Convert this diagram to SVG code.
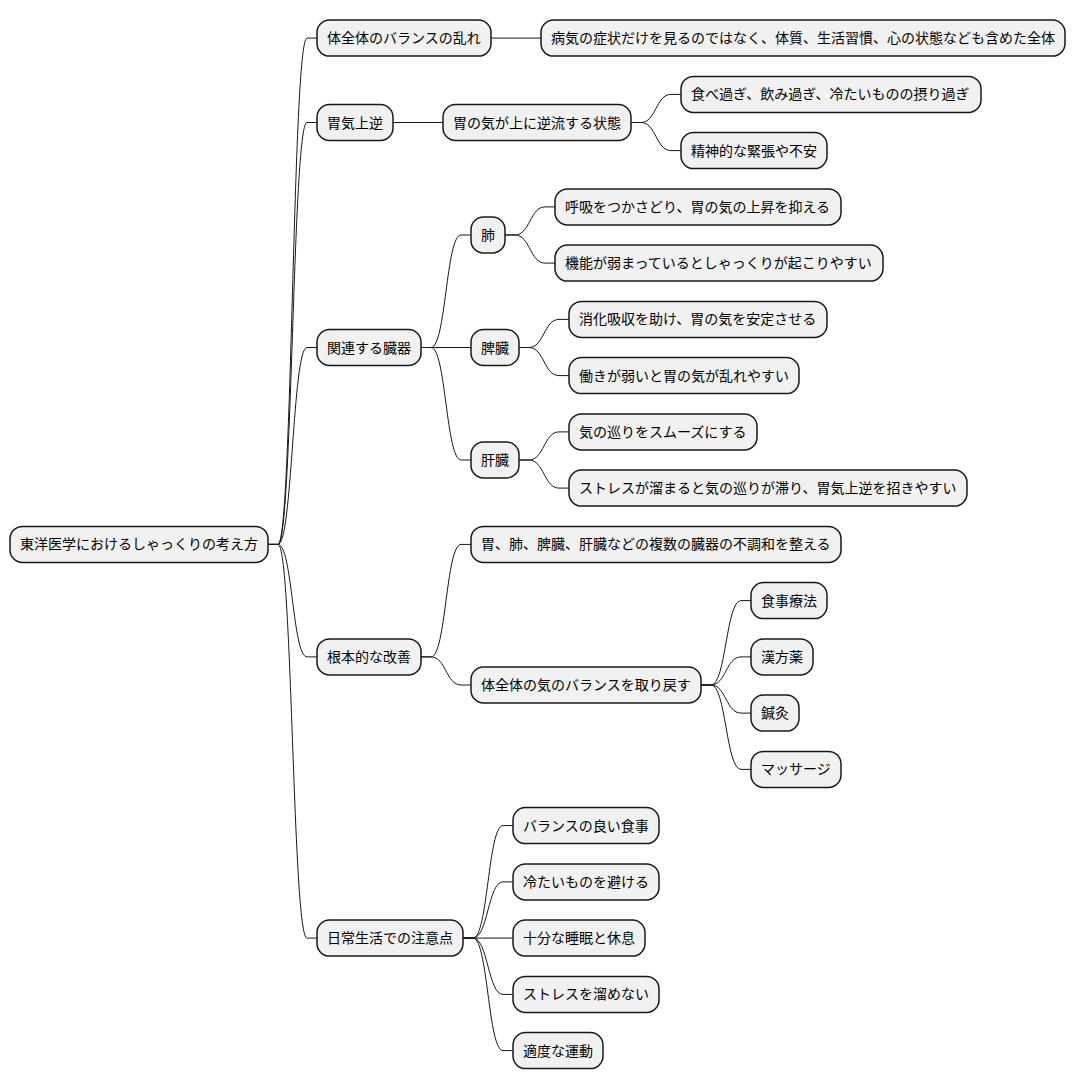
<svg xmlns="http://www.w3.org/2000/svg" width="1076" height="1090" viewBox="0 0 1076 1090">
<style>
.n rect{fill:#F1F1F1;stroke:#181818;stroke-width:1.5}
.n text{font-family:"Noto Sans CJK JP","Noto Sans",sans-serif;font-size:14px;fill:#000000}
.c path{fill:none;stroke:#181818;stroke-width:1}
</style>
<rect x="0" y="0" width="1076" height="1090" fill="#FFFFFF"/>
<g id="connectors" class="c">
<path d="M268,544.4 L278,544.4 C292.5,544.4 292.5,38.1 307,38.1 L317,38.1"/>
<path d="M268,544.4 L278,544.4 C292.5,544.4 292.5,122.5 307,122.5 L317,122.5"/>
<path d="M268,544.4 L278,544.4 C292.5,544.4 292.5,347.5 307,347.5 L317,347.5"/>
<path d="M268,544.4 L278,544.4 C292.5,544.4 292.5,656.9 307,656.9 L317,656.9"/>
<path d="M268,544.4 L278,544.4 C292.5,544.4 292.5,938.1 307,938.1 L317,938.1"/>
<path d="M491,38.1 L541,38.1"/>
<path d="M393,122.5 L443,122.5"/>
<path d="M631,122.5 L641,122.5 C656,122.5 656,94.4 671,94.4 L681,94.4"/>
<path d="M631,122.5 L641,122.5 C656,122.5 656,150.6 671,150.6 L681,150.6"/>
<path d="M421,347.5 L431,347.5 C446,347.5 446,235 461,235 L471,235"/>
<path d="M421,347.5 L471,347.5"/>
<path d="M421,347.5 L431,347.5 C446,347.5 446,460 461,460 L471,460"/>
<path d="M505,235 L515,235 C530,235 530,206.9 545,206.9 L555,206.9"/>
<path d="M505,235 L515,235 C530,235 530,263.1 545,263.1 L555,263.1"/>
<path d="M519,347.5 L529,347.5 C544,347.5 544,319.4 559,319.4 L569,319.4"/>
<path d="M519,347.5 L529,347.5 C544,347.5 544,375.6 559,375.6 L569,375.6"/>
<path d="M519,460 L529,460 C544,460 544,431.9 559,431.9 L569,431.9"/>
<path d="M519,460 L529,460 C544,460 544,488.1 559,488.1 L569,488.1"/>
<path d="M421,656.9 L431,656.9 C446,656.9 446,544.4 461,544.4 L471,544.4"/>
<path d="M421,656.9 L431,656.9 C446,656.9 446,685 461,685 L471,685"/>
<path d="M701,685 L711,685 C726,685 726,600.6 741,600.6 L751,600.6"/>
<path d="M701,685 L711,685 C726,685 726,656.9 741,656.9 L751,656.9"/>
<path d="M701,685 L711,685 C726,685 726,713.1 741,713.1 L751,713.1"/>
<path d="M701,685 L711,685 C726,685 726,769.4 741,769.4 L751,769.4"/>
<path d="M463,938.1 L473,938.1 C488,938.1 488,825.6 503,825.6 L513,825.6"/>
<path d="M463,938.1 L473,938.1 C488,938.1 488,881.9 503,881.9 L513,881.9"/>
<path d="M463,938.1 L513,938.1"/>
<path d="M463,938.1 L473,938.1 C488,938.1 488,994.4 503,994.4 L513,994.4"/>
<path d="M463,938.1 L473,938.1 C488,938.1 488,1050.6 503,1050.6 L513,1050.6"/>
</g>
<g id="root" class="n"><rect x="10" y="526.4" width="258" height="36" rx="12.5"/><text x="20" y="549.4">東洋医学におけるしゃっくりの考え方</text></g>
<g id="n1" class="n"><rect x="317" y="20.1" width="174" height="36" rx="12.5"/><text x="327" y="43.1">体全体のバランスの乱れ</text></g>
<g id="n1a" class="n"><rect x="541" y="20.1" width="524" height="36" rx="12.5"/><text x="551" y="43.1">病気の症状だけを見るのではなく、体質、生活習慣、心の状態なども含めた全体</text></g>
<g id="n2" class="n"><rect x="317" y="104.5" width="76" height="36" rx="12.5"/><text x="327" y="127.5">胃気上逆</text></g>
<g id="n2a" class="n"><rect x="443" y="104.5" width="188" height="36" rx="12.5"/><text x="453" y="127.5">胃の気が上に逆流する状態</text></g>
<g id="n2a1" class="n"><rect x="681" y="76.4" width="300" height="36" rx="12.5"/><text x="691" y="99.4">食べ過ぎ、飲み過ぎ、冷たいものの摂り過ぎ</text></g>
<g id="n2a2" class="n"><rect x="681" y="132.6" width="146" height="36" rx="12.5"/><text x="691" y="155.6">精神的な緊張や不安</text></g>
<g id="n3" class="n"><rect x="317" y="329.5" width="104" height="36" rx="12.5"/><text x="327" y="352.5">関連する臓器</text></g>
<g id="n3a" class="n"><rect x="471" y="217" width="34" height="36" rx="12.5"/><text x="481" y="240">肺</text></g>
<g id="n3a1" class="n"><rect x="555" y="188.9" width="286" height="36" rx="12.5"/><text x="565" y="211.9">呼吸をつかさどり、胃の気の上昇を抑える</text></g>
<g id="n3a2" class="n"><rect x="555" y="245.1" width="328" height="36" rx="12.5"/><text x="565" y="268.1">機能が弱まっているとしゃっくりが起こりやすい</text></g>
<g id="n3b" class="n"><rect x="471" y="329.5" width="48" height="36" rx="12.5"/><text x="481" y="352.5">脾臓</text></g>
<g id="n3b1" class="n"><rect x="569" y="301.4" width="258" height="36" rx="12.5"/><text x="579" y="324.4">消化吸収を助け、胃の気を安定させる</text></g>
<g id="n3b2" class="n"><rect x="569" y="357.6" width="230" height="36" rx="12.5"/><text x="579" y="380.6">働きが弱いと胃の気が乱れやすい</text></g>
<g id="n3c" class="n"><rect x="471" y="442" width="48" height="36" rx="12.5"/><text x="481" y="465">肝臓</text></g>
<g id="n3c1" class="n"><rect x="569" y="413.9" width="188" height="36" rx="12.5"/><text x="579" y="436.9">気の巡りをスムーズにする</text></g>
<g id="n3c2" class="n"><rect x="569" y="470.1" width="398" height="36" rx="12.5"/><text x="579" y="493.1">ストレスが溜まると気の巡りが滞り、胃気上逆を招きやすい</text></g>
<g id="n4" class="n"><rect x="317" y="638.9" width="104" height="36" rx="12.5"/><text x="327" y="661.9">根本的な改善</text></g>
<g id="n4a" class="n"><rect x="471" y="526.4" width="370" height="36" rx="12.5"/><text x="481" y="549.4">胃、肺、脾臓、肝臓などの複数の臓器の不調和を整える</text></g>
<g id="n4b" class="n"><rect x="471" y="667" width="230" height="36" rx="12.5"/><text x="481" y="690">体全体の気のバランスを取り戻す</text></g>
<g id="n4b1" class="n"><rect x="751" y="582.6" width="76" height="36" rx="12.5"/><text x="761" y="605.6">食事療法</text></g>
<g id="n4b2" class="n"><rect x="751" y="638.9" width="62" height="36" rx="12.5"/><text x="761" y="661.9">漢方薬</text></g>
<g id="n4b3" class="n"><rect x="751" y="695.1" width="48" height="36" rx="12.5"/><text x="761" y="718.1">鍼灸</text></g>
<g id="n4b4" class="n"><rect x="751" y="751.4" width="90" height="36" rx="12.5"/><text x="761" y="774.4">マッサージ</text></g>
<g id="n5" class="n"><rect x="317" y="920.1" width="146" height="36" rx="12.5"/><text x="327" y="943.1">日常生活での注意点</text></g>
<g id="n5a" class="n"><rect x="513" y="807.6" width="146" height="36" rx="12.5"/><text x="523" y="830.6">バランスの良い食事</text></g>
<g id="n5b" class="n"><rect x="513" y="863.9" width="146" height="36" rx="12.5"/><text x="523" y="886.9">冷たいものを避ける</text></g>
<g id="n5c" class="n"><rect x="513" y="920.1" width="132" height="36" rx="12.5"/><text x="523" y="943.1">十分な睡眠と休息</text></g>
<g id="n5d" class="n"><rect x="513" y="976.4" width="146" height="36" rx="12.5"/><text x="523" y="999.4">ストレスを溜めない</text></g>
<g id="n5e" class="n"><rect x="513" y="1032.6" width="90" height="36" rx="12.5"/><text x="523" y="1055.6">適度な運動</text></g>
</svg>
